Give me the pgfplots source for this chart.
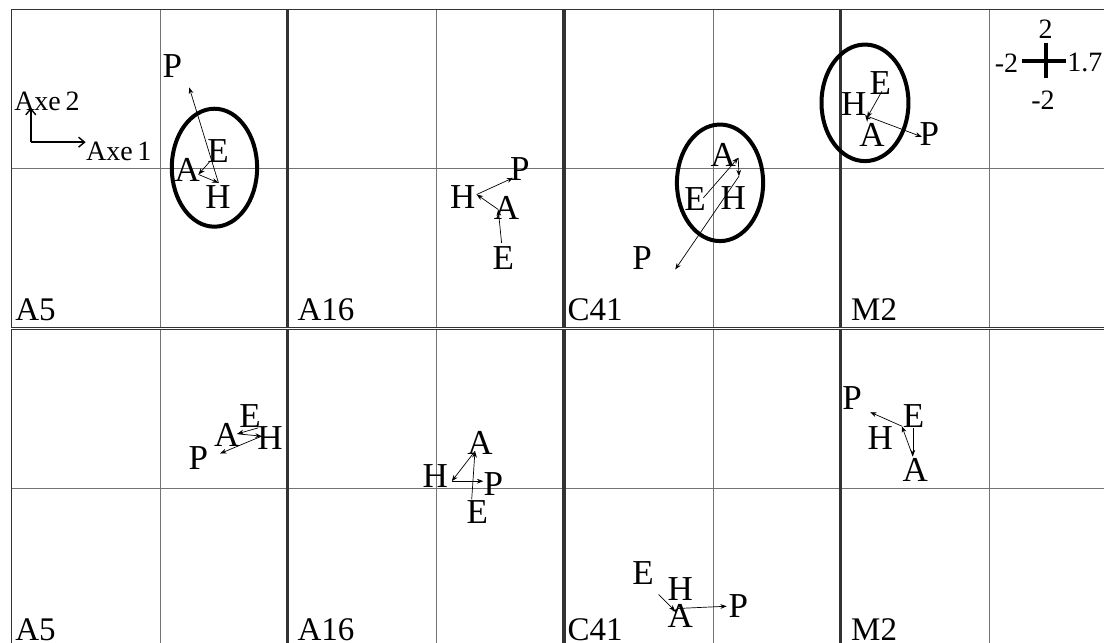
\documentclass[border=0pt]{standalone}
\usepackage{pgfplots}
\pgfplotsset{compat=1.18}
\usepackage{pgfplotstable}
\usepackage{fontspec}
\setmainfont{Liberation Serif}
\usetikzlibrary{arrows.meta}

% ---------- trajectories (E -> A -> H -> P) : segment tables ----------
% columns: start point (x,y), end point (xn,yn)
\pgfplotstableread{
x      y      xn     yn
0.670  0.092  0.513 -0.075
0.513 -0.075  0.782 -0.180
0.782 -0.180  0.389  1.019
}\segAfiveT
\pgfplotstableread{
x      y      xn     yn
0.871 -0.935  0.826 -0.516
0.826 -0.516  0.536 -0.327
0.536 -0.327  1.027 -0.117
}\segAsixteenT
\pgfplotstableread{
x      y      xn     yn
-0.134 -0.369 0.335  0.135
0.335  0.135  0.345 -0.097
0.345 -0.097 -0.513 -1.270
}\segCfortyoneT
\pgfplotstableread{
x      y      xn     yn
-1.452 0.972 -1.653  0.638
-1.653 0.638 -1.676  0.667
-1.676 0.667 -0.916  0.399
}\segMtwoT
\pgfplotstableread{
x      y      xn     yn
1.318  0.763  1.036  0.688
1.036  0.688  1.363  0.658
1.363  0.658  0.804  0.440
}\segAfiveB
\pgfplotstableread{
x      y      xn     yn
0.469 -0.138  0.513  0.469
0.513  0.469  0.201  0.092
0.201  0.092  0.625  0.092
}\segAsixteenB
\pgfplotstableread{
x      y      xn     yn
-0.737 -1.333 -0.513 -1.543
-0.513 -1.543 -0.473 -1.509
-0.473 -1.509  0.180 -1.481
}\segCfortyoneB
\pgfplotstableread{
x      y      xn     yn
-1.036 0.755 -1.036 0.406
-1.036 0.406 -1.184 0.784
-1.184 0.784 -1.609 0.960
}\segMtwoB

% ---------- label positions ----------
\pgfplotstableread{
label lx ly
E 0.777  0.214
A 0.362 -0.013
H 0.777 -0.365
P 0.161  1.283
}\labAfiveT
\pgfplotstableread{
label lx ly
E 0.893 -1.123
A 0.938 -0.495
H 0.348 -0.356
P 1.117 -0.013
}\labAsixteenT
\pgfplotstableread{
label lx ly
E -0.245 -0.390
A  0.134  0.176
H  0.268 -0.369
P -0.960 -1.123
}\labCfortyoneT
\pgfplotstableread{
label lx ly
E -1.475 1.078
A -1.586 0.428
H -1.832 0.805
P -0.813 0.428
}\labMtwoT
\pgfplotstableread{
label lx ly
E 1.206 0.909
A 0.894 0.679
H 1.475 0.638
P 0.513 0.386
}\labAfiveB
\pgfplotstableread{
label lx ly
E  0.544 -0.298
A  0.580  0.575
H -0.023  0.155
P  0.759  0.050
}\labAsixteenB
\pgfplotstableread{
label lx ly
E -0.946 -1.060
A -0.446 -1.606
H -0.446 -1.270
P  0.335 -1.481
}\labCfortyoneB
\pgfplotstableread{
label lx ly
E -1.028 0.909
A -1.005 0.239
H -1.475 0.638
P -1.854 1.141
}\labMtwoB

\newcommand\labfont{\fontsize{17.5}{20}\selectfont}
\newcommand\scalefont{\fontsize{14}{16}\selectfont}

\pgfplotsset{
  panel/.style={
    width=137.5pt, height=159pt, scale only axis,
    xmin=-2, xmax=1.7, ymin=-2, ymax=2,
    xtick={0}, ytick={0}, xticklabels={{}}, yticklabels={{}},
    major tick length=0pt,
    xmajorgrids, ymajorgrids,
    grid style={black!55, line width=0.5pt},
    axis line style={black!80, line width=0.8pt},
    clip=false, anchor=north west,
  },
}

% one trajectory: arrows between successive dates, then the labels
\newcommand\traject[2]{%
  \addplot[black, line width=0.35pt, -{Stealth[length=3.2pt,width=2.4pt]},
    quiver={u=\thisrow{xn}-\thisrow{x}, v=\thisrow{yn}-\thisrow{y}}]
    table[x=x, y=y] {#1};
  \addplot[only marks, mark=none, point meta=explicit symbolic,
    nodes near coords,
    every node near coord/.append style={anchor=center, font=\labfont, inner sep=0pt}]
    table[x=lx, y=ly, meta=label] {#2};
}
\newcommand\panellabel[2]{%
  \node[anchor=base west, font=\fontsize{16.5}{18}\selectfont, inner sep=0pt,
        xshift=#2, yshift=3.5pt] at (rel axis cs:0,0) {#1};
}

\begin{document}
\begin{tikzpicture}
\useasboundingbox (0,0) rectangle (552pt,-321.5pt);
\clip (0,0) rectangle (552pt,-321.5pt);

% ---------------- top row ----------------
\begin{axis}[panel, at={(5.85pt,-4.75pt)}]
  \traject{\segAfiveT}{\labAfiveT}
  \draw[line width=2pt] (axis cs:0.728,0.01) ellipse [x radius=0.574, y radius=0.742];
  % axes legend
  \draw[line width=0.7pt, -{Straight Barb[length=3pt,width=5pt]}]
    (axis cs:-1.743,0.331) -- (axis cs:-1.743,0.764);
  \draw[line width=0.7pt, -{Straight Barb[length=3pt,width=5pt]}]
    (axis cs:-1.743,0.331) -- (axis cs:-1.005,0.331);
  \node[anchor=west, font=\fontsize{14}{16}\selectfont, inner sep=0pt] at (axis cs:-1.971,0.847) {Axe\,2};
  \node[anchor=west, font=\fontsize{14}{16}\selectfont, inner sep=0pt] at (axis cs:-1.005,0.218) {Axe\,1};
  \panellabel{A5}{1.6pt}
\end{axis}

\begin{axis}[panel, at={(144.1pt,-4.75pt)}]
  \traject{\segAsixteenT}{\labAsixteenT}
  \panellabel{A16}{4.5pt}
\end{axis}

\begin{axis}[panel, at={(282.35pt,-4.75pt)}]
  \traject{\segCfortyoneT}{\labCfortyoneT}
  \draw[line width=2pt] (axis cs:0.09,-0.18) ellipse [x radius=0.58, y radius=0.733];
  \panellabel{C41}{1.3pt}
\end{axis}

\begin{axis}[panel, at={(420.6pt,-4.75pt)}]
  \traject{\segMtwoT}{\labMtwoT}
  \draw[line width=2pt] (axis cs:-1.68,0.826) ellipse [x radius=0.585, y radius=0.733];
  % scale of the panels
  \addplot[black, line width=2pt] coordinates {(0.438,1.358) (1.019,1.358)};
  \addplot[black, line width=2pt] coordinates {(0.751,1.581) (0.751,1.141)};
  \node[font=\scalefont, inner sep=0pt] at (axis cs:0.751,1.748) {2};
  \node[font=\scalefont, inner sep=0pt] at (axis cs:0.715,0.854) {-2};
  \node[font=\scalefont, inner sep=0pt] at (axis cs:0.224,1.329) {-2};
  \node[font=\scalefont, inner sep=0pt, anchor=west] at (axis cs:1.038,1.329) {1.7};
  \panellabel{M2}{4.8pt}
\end{axis}

% ---------------- bottom row ----------------
\begin{axis}[panel, at={(5.85pt,-164.75pt)}]
  \traject{\segAfiveB}{\labAfiveB}
  \panellabel{A5}{1.6pt}
\end{axis}

\begin{axis}[panel, at={(144.1pt,-164.75pt)}]
  \traject{\segAsixteenB}{\labAsixteenB}
  \panellabel{A16}{4.5pt}
\end{axis}

\begin{axis}[panel, at={(282.35pt,-164.75pt)}]
  \traject{\segCfortyoneB}{\labCfortyoneB}
  \panellabel{C41}{1.3pt}
\end{axis}

\begin{axis}[panel, at={(420.6pt,-164.75pt)}]
  \traject{\segMtwoB}{\labMtwoB}
  \panellabel{M2}{4.8pt}
\end{axis}
\end{tikzpicture}
\end{document}
